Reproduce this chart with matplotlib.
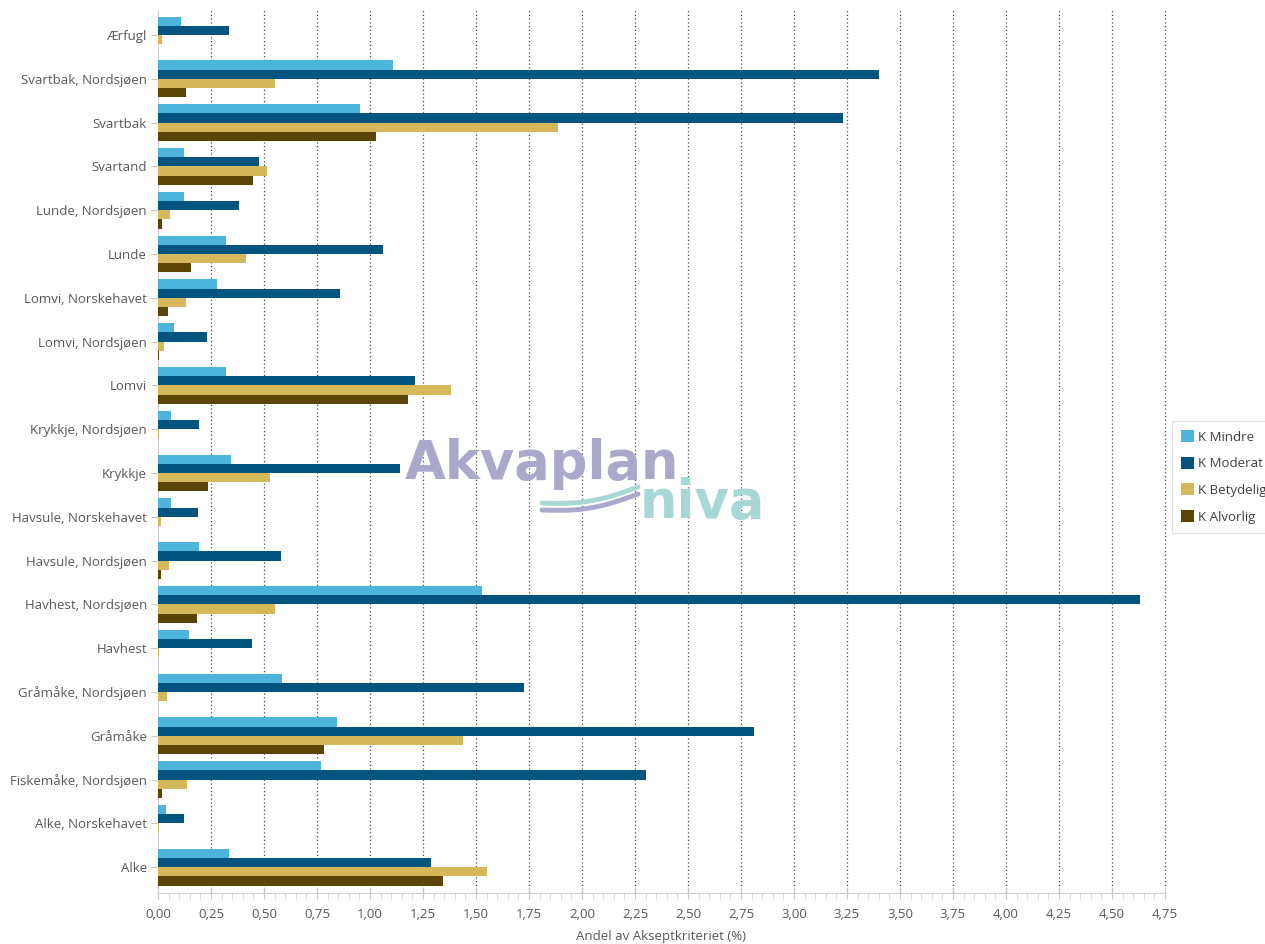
import matplotlib.pyplot as plt
import numpy as np
from matplotlib.ticker import MultipleLocator, FuncFormatter

plt.rcParams['font.family'] = ['Open Sans', 'DejaVu Sans']

# Arter / bestander, øverst til nederst
arter = ['Ærfugl', 'Svartbak, Nordsjøen', 'Svartbak', 'Svartand', 'Lunde, Nordsjøen',
         'Lunde', 'Lomvi, Norskehavet', 'Lomvi, Nordsjøen', 'Lomvi', 'Krykkje, Nordsjøen',
         'Krykkje', 'Havsule, Norskehavet', 'Havsule, Nordsjøen', 'Havhest, Nordsjøen',
         'Havhest', 'Gråmåke, Nordsjøen', 'Gråmåke', 'Fiskemåke, Nordsjøen',
         'Alke, Norskehavet', 'Alke']

k_mindre = [0.108, 1.108, 0.953, 0.123, 0.123, 0.323, 0.280, 0.075, 0.320, 0.063,
            0.343, 0.063, 0.193, 1.528, 0.146, 0.583, 0.843, 0.767, 0.038, 0.335]
k_moderat = [0.335, 3.400, 3.230, 0.478, 0.380, 1.060, 0.858, 0.230, 1.213, 0.193,
             1.140, 0.189, 0.580, 4.632, 0.443, 1.727, 2.810, 2.300, 0.122, 1.290]
k_betydelig = [0.020, 0.552, 1.887, 0.515, 0.057, 0.413, 0.132, 0.027, 1.380, 0.003,
               0.528, 0.013, 0.052, 0.552, 0.003, 0.044, 1.440, 0.135, 0.006, 1.550]
k_alvorlig = [0.000, 0.132, 1.030, 0.449, 0.020, 0.155, 0.048, 0.007, 1.178, 0.000,
              0.237, 0.000, 0.015, 0.184, 0.000, 0.000, 0.783, 0.017, 0.000, 1.343]

serier = ['K Mindre', 'K Moderat', 'K Betydelig', 'K Alvorlig']
verdier = [k_mindre, k_moderat, k_betydelig, k_alvorlig]
farger = ['#4db5dc', '#03557f', '#d5b85a', '#5b4405']

fig = plt.figure(figsize=(12.65, 9.44), dpi=100)
ax = fig.add_axes([158 / 1265, 1 - 893 / 944, (1165 - 158) / 1265, (893 - 10) / 944])

y = np.arange(len(arter))
h = 0.21
for i, (navn, v, c) in enumerate(zip(serier, verdier, farger)):
    ax.barh(y + (i - 1.5) * h, v, height=h, color=c, label=navn, zorder=3)

ax.set_ylim(len(arter) - 1 + 0.59, -0.57)
ax.set_xlim(0, 4.75)
ax.set_yticks(y)
ax.set_yticklabels(arter)

ax.xaxis.set_major_locator(MultipleLocator(0.25))
ax.xaxis.set_minor_locator(MultipleLocator(0.05))
ax.xaxis.set_major_formatter(FuncFormatter(lambda v, p: f'{v:.2f}'.replace('.', ',')))

# stiplede vertikale hjelpelinjer
for xv in np.arange(0.25, 4.76, 0.25):
    ax.axvline(xv, color='#4a4a4a', linestyle=(0, (1, 2)), linewidth=0.9, zorder=1,
               clip_on=False)

for s in ['top', 'right']:
    ax.spines[s].set_visible(False)
ax.spines['bottom'].set_color('#d0d0d0')
ax.spines['left'].set_color('#d0d0d0')

ax.tick_params(axis='y', colors='#c8c8c8', labelcolor='#595959', labelsize=9.5, length=5, pad=3)
ax.tick_params(axis='x', which='major', colors='#c8c8c8', labelcolor='#595959', labelsize=9.5,
               direction='inout', length=9, pad=6)
ax.tick_params(axis='x', which='minor', colors='#d0d0d0', direction='out', length=4)

ax.set_xlabel('Andel av Akseptkriteriet (%)', color='#595959', fontsize=9.5, labelpad=7)

leg = fig.legend(loc='upper left', bbox_to_anchor=(1172 / 1265, 1 - 421 / 944),
                 fontsize=9.5, frameon=True, fancybox=False, handlelength=1.0,
                 handleheight=1.0, handletextpad=0.3, labelspacing=1.0,
                 borderpad=0.7, borderaxespad=0)
leg.get_frame().set_edgecolor('#d8d8d8')
leg.get_frame().set_linewidth(0.8)
for t in leg.get_texts():
    t.set_color('#404040')

# logo i bakgrunnen
fig.text(405 / 1265, 1 - 479 / 944, 'Akvaplan', fontsize=38, fontweight='bold',
         family='DejaVu Sans', color='#aaa9cc', zorder=0)
fig.text(640 / 1265, 1 - 518 / 944, 'niva', fontsize=38, fontweight='bold',
         family='DejaVu Sans', color='#a8d8d6', zorder=0)
bx = np.linspace(0, 1, 60)
for dy, col in [(0.0, '#a8d8d6'), (7.0, '#aaa9cc')]:
    xs = (542 + 96 * bx) / 1265
    ys = 1 - (503 + dy - 16 * bx + 6 * np.sin(np.pi * bx)) / 944
    fig.lines.append(plt.Line2D(xs, ys, transform=fig.transFigure, color=col,
                                linewidth=3.5, solid_capstyle='round', zorder=0))

fig.savefig('out.png', dpi=100)
